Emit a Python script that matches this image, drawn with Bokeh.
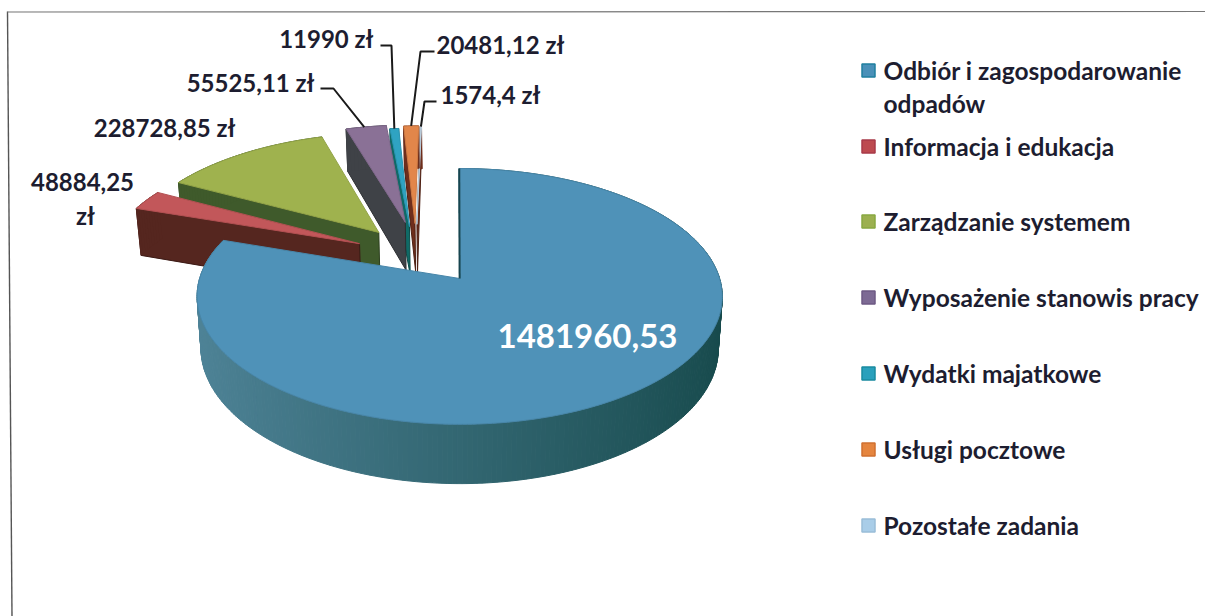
from bokeh.plotting import figure
from bokeh.models import Range1d
from bokeh.embed import file_html
from bokeh.resources import INLINE
from bokeh.core.properties import value
import numpy as np

# ---- data ----
categories = ["Odbiór i zagospodarowanie\nodpadów", "Informacja i edukacja", "Zarządzanie systemem",
              "Wyposażenie stanowis pracy", "Wydatki majatkowe", "Usługi pocztowe", "Pozostałe zadania"]
amounts = [1481960.53, 48884.25, 228728.85, 55525.11, 11990, 20481.12, 1574.4]
amount_labels = ["1481960,53", "48884,25\nzł", "228728,85 zł", "55525,11 zł", "11990 zł", "20481,12 zł", "1574,4 zł"]

# ---- styles ----
top_colors = ["#4f92b8", "#c2575a", "#9fb24e", "#8a7196", "#2fa3c2", "#e2864a", "#c8dff0"]
wall_colors = ["#2b6a7c", "#55261f", "#3f5a2b", "#3f4247", "#0f6a66", "#6e2e1c", "#6e2e1c"]
legend_colors = ["#4a90b8", "#bd4a50", "#9cb050", "#7d6a94", "#2aa0bc", "#e5853f", "#a9cde8"]
legend_edges = ["#1f7f9f", "#a83a48", "#88a840", "#6d5a84", "#1a8aa0", "#d07030", "#99bdd8"]
# exploded offset of every slice, in units of the pie radius (x, depth)
offsets = [(0.012, 0), (-0.388, -0.289), (-0.315, -0.387), (-0.21, -0.477), (-0.192, -0.44), (-0.17, -0.467), (-0.162, -0.46)]
cx, cy, R, A, K, H, S = 456, 278, 260, 125.4, 0.14, 51, 0.985
INK = "#1d1d30"
FONT = value("Lato")

p = figure(width=1205, height=616, output_backend="svg", toolbar_location=None,
           x_range=Range1d(0, 1205), y_range=Range1d(616, 0), min_border=0, outline_line_color=None)
p.axis.visible = False
p.grid.visible = False
p.background_fill_color = "white"
p.border_fill_color = "white"


def top(u, v):
    w = 1 - K * v
    return cx + R * u / w, cy + A * v / w


def low(u, v):
    w = 1 - K * v
    return cx + S * R * u / w, cy + (A * v + H) / w


def mix(c1, c2, t):
    a = [int(c1[i:i + 2], 16) for i in (1, 3, 5)]
    b = [int(c2[i:i + 2], 16) for i in (1, 3, 5)]
    return "#%02x%02x%02x" % tuple(int(x + (y - x) * t) for x, y in zip(a, b))


total = sum(amounts)
ends = np.cumsum(amounts) / total * 2 * np.pi
starts = np.concatenate([[0], ends[:-1]])
outer_mid = {}


def draw_slice(i):
    a0, a1 = starts[i], ends[i]
    n = max(4, int((a1 - a0) * 60))
    th = np.linspace(a0, a1, n + 1)
    ox, oy = offsets[i]
    us = np.sin(th) + ox
    vs = -np.cos(th) + oy
    # side faces and outer wall (painter order)
    if i > 0:
        tx, ty = top(ox, oy)
        bx, by = low(ox, oy)
        sx, sy = top(us[0], vs[0])
        qx, qy = low(us[0], vs[0])
        p.patch([sx, tx, bx, qx], [sy, ty, by, qy], fill_color=wall_colors[i],
                line_color=mix(wall_colors[i], "#000000", 0.3), line_width=1)
    for j in range(n):
        xa, ya = top(us[j], vs[j])
        xb, yb = top(us[j + 1], vs[j + 1])
        xc, yc = low(us[j + 1], vs[j + 1])
        xd, yd = low(us[j], vs[j])
        if i == 0:
            t = (np.sin((th[j] + th[j + 1]) / 2) + 1) / 2
            col = mix("#4f8498", "#174a4c", t)
        else:
            col = wall_colors[i]
        p.patch([xa, xb, xc, xd], [ya, yb, yc, yd], fill_color=col, line_color=col, line_width=1)
    xs, ys = top(np.append(us, ox), np.append(vs, oy))
    p.patch(list(xs), list(ys), fill_color=top_colors[i], line_color=mix(top_colors[i], "#000000", 0.08), line_width=1)
    if i == 0:
        x0, y0 = top(np.array([ox, us[0]]), np.array([oy, vs[0]]))
        p.line(list(x0), list(y0), line_color="#17454f", line_width=2)
    mid = np.argmin(np.abs(th - (a0 + a1) / 2))
    outer_mid[i] = top(us[mid], vs[mid])


for i in [6, 5, 4, 3, 2, 1, 0]:
    draw_slice(i)

# frame (the scan is slightly skewed)
p.line([7, 11.5], [11, 616], line_color="#555555", line_width=1.4)
p.line([7, 1205], [11.5, 11], line_color="#777777", line_width=1.2)

# leader lines: label side start, elbow, slice edge
leaders = {3: (320, 333, 88), 4: (380, 391, 45), 5: (434, 420, 51), 6: (436, 424, 101)}
for i, (x0, x1, y) in leaders.items():
    ex, ey = outer_mid[i]
    p.line([x0, x1, ex], [y, y, ey], line_color="#1a1a1a", line_width=2)

# amount labels
def label(x, y, t, align="left", size="24px", color=INK):
    p.text([x], [y], text=[t], text_font=FONT, text_font_style="bold", text_font_size=size,
           text_color=color, text_align=align, text_baseline="middle")


first, second = amount_labels[1].split("\n")
label(587, 335, amount_labels[0], "center", "33px", "white")
label(82, 181, first, "center")
label(85, 215, second, "center")
label(235, 127, amount_labels[2], "right")
label(314, 82, amount_labels[3], "right")
label(373, 38, amount_labels[4], "right")
label(436, 44, amount_labels[5], "left")
label(440, 94, amount_labels[6], "left")

# legend
legend_y = [70, 146, 221, 297, 373, 449, 525]
for i, name in enumerate(categories):
    y = legend_y[i]
    p.rect([868], [y], width=13, height=13, fill_color=legend_colors[i], line_color=legend_edges[i], line_width=1.5)
    lines = name.split("\n")
    for j, t in enumerate(lines):
        label(883, y + j * 33, t, "left", "24.5px")

open("out.html", "w").write(file_html(p, INLINE))
